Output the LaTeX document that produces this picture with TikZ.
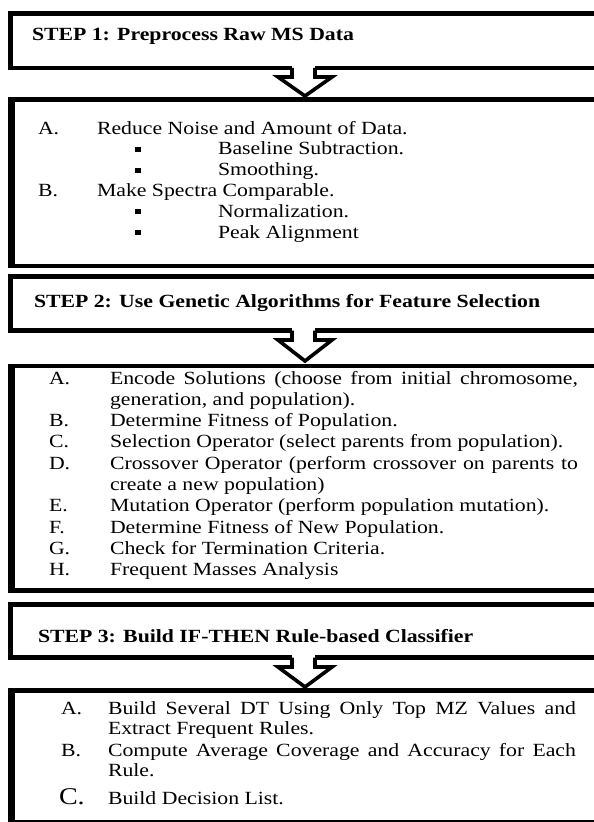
\documentclass[tikz,border=0pt]{standalone}
\usepackage{fontspec}
\setmainfont{Liberation Serif}[FakeStretch=1.17]
\begin{document}
\begin{tikzpicture}[x=1bp,y=-1bp,
  boxline/.style={line width=4.5bp, draw=black, line join=miter},
  leftedge/.style={line width=7bp, draw=black},
  arrowline/.style={line width=3.6bp, draw=black, line join=miter, fill=white},
  txt/.style={anchor=base west, inner sep=0pt, outer sep=0pt, font=\fontsize{18.6bp}{20bp}\selectfont},
  ttl/.style={anchor=base west, inner sep=0pt, outer sep=0pt, font=\fontsize{18.6bp}{20bp}\selectfont\bfseries},
  bigtxt/.style={anchor=base west, inner sep=0pt, outer sep=0pt, font=\fontsize{24bp}{26bp}\selectfont},
  bul/.style={fill=black}
]
\useasboundingbox (0,0) rectangle (594,822);
\fill[white] (0,0) rectangle (594,822);

% ---------- STEP 1 box ----------
\coordinate (s1l) at (292,68);
\coordinate (s1r) at (315,68);
\draw[boxline] (s1l) -- (10.5,68) -- (10.5,13.5) -- (640,13.5) -- (640,68) -- (s1r);
\draw[arrowline] (s1l) -- (292,77) -- (278,77) -- (305,96) -- (332,77) -- (315,77) -- (s1r);
\node[ttl] (t1) at (32,41) {STEP 1: Preprocess Raw MS Data};

% ---------- content box 1 ----------
\draw[boxline] (11.5,99.5) rectangle (595.8,266);
\draw[leftedge] (11.5,97.25) -- (11.5,268.25);
\node[txt] (b1a) at (38,134) {A.};
\node[txt] (b1at) at (97,134) {Reduce Noise and Amount of Data.};
\fill[bul] (134.5,146.8) rectangle (140.5,151.8);
\node[txt] (b1a1) at (218,154.8) {Baseline Subtraction.};
\fill[bul] (134.5,167.6) rectangle (140.5,172.6);
\node[txt] (b1a2) at (218,175.6) {Smoothing.};
\node[txt] (b1b) at (38,196.4) {B.};
\node[txt] (b1bt) at (97,196.4) {Make Spectra Comparable.};
\fill[bul] (134.5,209.2) rectangle (140.5,214.2);
\node[txt] (b1b1) at (218,217.2) {Normalization.};
\fill[bul] (134.5,230) rectangle (140.5,235);
\node[txt] (b1b2) at (218,238) {Peak Alignment};

% ---------- STEP 2 box ----------
\coordinate (s2l) at (292,330.5);
\coordinate (s2r) at (315,330.5);
\draw[boxline] (s2l) -- (10.5,330.5) -- (10.5,276.5) -- (640,276.5) -- (640,330.5) -- (s2r);
\draw[arrowline] (s2l) -- (292,340) -- (278,340) -- (305,361) -- (332,340) -- (315,340) -- (s2r);
\node[ttl] (t2) at (34,307) {STEP 2: Use Genetic Algorithms for Feature Selection};

% ---------- content box 2 ----------
\draw[boxline] (11.5,366) rectangle (595.8,590.5);
\draw[leftedge] (11.5,363.75) -- (11.5,592.75);
\node[txt] (b2a) at (49,384) {A.};
\node[txt] (b2at) at (110,384) {\makebox[468bp][s]{Encode Solutions (choose from initial chromosome,}};
\node[txt] (b2at2) at (110,405.3) {generation, and population).};
\node[txt] (b2b) at (49,426.6) {B.};
\node[txt] (b2bt) at (110,426.6) {Determine Fitness of Population.};
\node[txt] (b2c) at (49,447.9) {C.};
\node[txt] (b2ct) at (110,447.9) {Selection Operator (select parents from population).};
\node[txt] (b2d) at (49,469.2) {D.};
\node[txt] (b2dt) at (110,469.2) {\makebox[468bp][s]{Crossover Operator (perform crossover on parents to}};
\node[txt] (b2dt2) at (110,490.5) {create a new population)};
\node[txt] (b2e) at (49,511.8) {E.};
\node[txt] (b2et) at (110,511.8) {Mutation Operator (perform population mutation).};
\node[txt] (b2f) at (49,533.1) {F.};
\node[txt] (b2ft) at (110,533.1) {Determine Fitness of New Population.};
\node[txt] (b2g) at (49,554.4) {G.};
\node[txt] (b2gt) at (110,554.4) {Check for Termination Criteria.};
\node[txt] (b2h) at (49,575.7) {H.};
\node[txt] (b2ht) at (110,575.7) {Frequent Masses Analysis};

% ---------- STEP 3 box ----------
\coordinate (s3l) at (292,657.5);
\coordinate (s3r) at (315,657.5);
\draw[boxline] (s3l) -- (10.5,657.5) -- (10.5,604.5) -- (640,604.5) -- (640,657.5) -- (s3r);
\draw[arrowline] (s3l) -- (292,667) -- (278,667) -- (305,687) -- (332,667) -- (315,667) -- (s3r);
\node[ttl] (t3) at (38,642) {STEP 3: Build IF-THEN Rule-based Classifier};

% ---------- content box 3 ----------
\draw[boxline] (11.5,690.5) rectangle (595.8,822.5);
\draw[leftedge] (11.5,688.25) -- (11.5,824);
\node[txt] (b3a) at (61,714) {A.};
\node[txt] (b3at) at (108,714) {\makebox[468bp][s]{Build Several DT Using Only Top MZ Values and}};
\node[txt] (b3at2) at (108,734) {Extract Frequent Rules.};
\node[txt] (b3b) at (61,756) {B.};
\node[txt] (b3bt) at (108,756) {\makebox[468bp][s]{Compute Average Coverage and Accuracy for Each}};
\node[txt] (b3bt2) at (108,776) {Rule.};
\node[bigtxt] (b3c) at (59,804.5) {C.};
\node[txt] (b3ct) at (108,804.5) {Build Decision List.};
\end{tikzpicture}
\end{document}
